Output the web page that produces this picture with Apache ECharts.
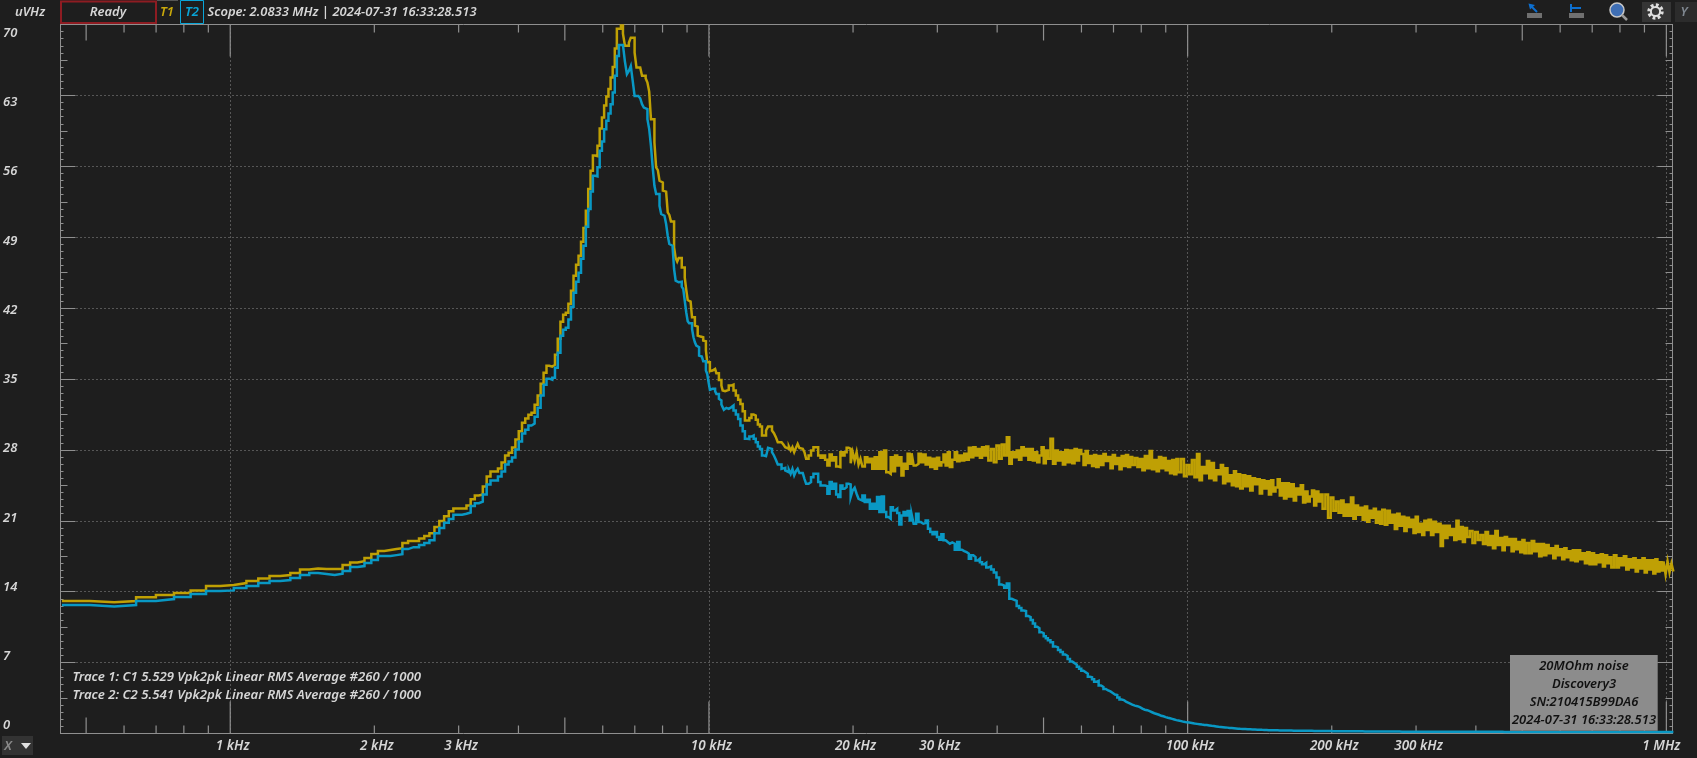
<!DOCTYPE html>
<html><head><meta charset="utf-8">
<style>html,body{margin:0;padding:0;background:#1e1e1e}#c{width:1697px;height:758px}</style>
<script src="https://cdn.jsdelivr.net/npm/echarts@6/dist/echarts.min.js"></script>
</head><body><div id="c"></div>
<script>
const binHz = 63.58;
const firstLowBin = 7;
const t1Low = [13.08,12.95,13.08,13.44,13.67,13.87,14.13,14.56,14.66,14.85,15.05,15.31,15.54,15.64,15.84,16.2,16.3,16.23,16.23,16.23,16.63,16.89,17.02,17.32,17.71,18.01,18.11,18.21,18.3,18.8,19.0,19.0,19.26,19.49,19.78,20.38,20.97,
21.46,21.95,22.21,22.21,22.21,22.51,23.13,23.49,23.59,24.38,25.37,25.86,25.86,26.16,26.75,27.44,27.73,28.23,29.02,29.84,30.69,31.09,31.48,31.68,32.47,33.36,34.54,35.62,36.31,36.22,36.41,37.4,38.98,40.65,41.34,41.54,42.43,43.71,45.19,46.27,47.16,48.54,49.92,51.6,
53.75,55.56,57.07,57.0,58.02,59.73,60.82,62.0,62.89,63.64,64.76,65.81,67.62,69.59,69.59,69.89,69.1,67.9,67.9,68.2,68.7,68.7,67.23,65.75,65.75,65.65,64.93,64.93,64.7,64.27,63.38,60.65,60.65,58.35,55.9,55.62,54.57,54.4,53.6,53.5,53.4,51.45,51.2,50.56,
50.56,48.0,46.95,46.6,46.95,46.95,46.0,46.0,45.04,43.82,42.8,42.64,42.64,41.1,41.1,40.27,40.17,39.29,39.19,39.19,39.12,38.79,38.73,37.81,36.66,36.66,35.77,35.84,35.84,36.0,36.0,35.57,35.57,34.91,34.91,34.36,33.86,33.8,33.8];
const t2Low = [12.68,12.55,12.68,13.08,13.27,13.47,13.77,14.06,14.13,14.36,14.56,14.85,15.05,15.15,15.35,15.64,15.84,15.74,15.64,15.77,16.04,16.43,16.53,16.83,17.12,17.52,17.52,17.61,17.71,18.21,18.4,18.4,18.6,18.8,19.09,19.78,20.28,20.8,
21.19,21.59,21.59,21.69,21.82,22.47,22.74,22.9,23.59,24.58,24.97,24.97,25.37,25.86,26.55,26.85,27.24,28.03,28.82,29.61,30.0,30.4,30.59,31.28,32.17,33.36,34.44,35.03,34.93,35.13,36.12,37.6,39.27,39.86,40.06,40.88,42.13,43.51,44.6,45.49,46.87,48.15,50.02,
51.78,53.5,55.06,55.0,55.9,57.53,58.45,59.67,60.49,61.21,62.13,63.28,64.93,66.9,67.98,67.98,67.88,66.34,65.1,65.42,65.91,64.43,62.95,62.95,62.95,62.72,62.13,61.8,61.64,60.65,59.67,58.02,55.9,54.08,53.26,53.26,
52.1,51.29,51.12,50.96,50.3,49.15,48.33,48.16,48.0,45.86,44.71,44.55,44.6,44.6,44.12,43.89,42.74,41.59,40.7,40.5,40.5,39.94,39.12,38.63,38.3,38.14,37.31,37.22,37.15,36.76,36.76,35.84,35.5,34.68,33.93,34.03,34.03,34.03,33.8,33.53,33.53,33.04,32.88,32.48,32.22,31.96,32.15];
// above 10.9 kHz the traces are read at every Nth FFT bin: [first bin, stride, count]
const binRuns = [[171,2,40],[251,3,27],[333,4,23],[426,5,16],[507,6,17],[611,8,25],[813,10,20],[1013,12,17],[1220,15,20],[1525,20,25],[2025,25,20],[2530,30,17],[3050,40,25],[4060,50,20],[5070,60,17],[6110,80,25],[8130,100,20],[10150,120,17],[12220,150,28]];
const t1High = [33.92,34.35,34.45,33.86,33.37,32.94,32.54,31.82,30.9,30.9,31.16,31.49,31.39,30.97,30.5,30.3,29.42,29.42,29.91,30.3,30.3,29.91,29.65,29.26,28.76,28.76,28.66,28.53,28.27,28.1,28.34,27.94,28.27,27.78,28.2,28.6,28.2,28.1,28.1,27.78,
27.12,27.45,27.94,28.27,28.27,27.45,27.22,27.45,27.02,26.46,27.55,26.95,27.28,26.36,26.3,27.78,27.45,27.78,28.2,28.1,26.69,27.78,26.95,27.78,26.56,27.12,26.36,
27.28,26.79,27.12,26.13,27.28,26.13,27.78,26.13,27.94,25.8,25.64,27.28,25.9,27.45,26.46,27.28,25.48,26.63,26.13,27.61,26.63,27.68,26.46,
26.63,27.61,26.79,27.55,26.56,27.22,26.3,27.12,26.13,27.22,26.46,26.79,27.55,26.46,27.78,26.3,
27.02,27.78,26.89,27.45,26.95,27.61,27.02,28.2,27.28,28.27,27.45,28.1,27.22,28.27,27.45,28.34,26.95,
28.1,26.79,28.43,27.12,28.53,27.45,29.26,26.63,27.78,27.28,27.94,27.02,28.27,27.45,28.1,27.02,28.1,26.95,27.78,26.79,27.45,28.27,26.69,27.94,27.12,
29.09,26.63,27.94,26.95,27.78,26.56,28.0,26.79,27.94,26.69,28.1,26.95,28.0,27.6,26.5,27.9,26.7,27.4,26.4,27.5,
26.3,27.4,26.5,27.6,26.9,27.3,26.2,27.5,26.6,27.2,26.1,27.4,26.4,27.5,26.3,27.3,26.5,
27.2,26.3,27.1,26.0,27.4,26.2,27.9,26.1,27.0,25.9,27.3,26.2,27.2,26.0,26.9,25.7,27.0,25.6,27.1,25.8,
27.1,25.4,26.5,25.6,27.0,25.3,27.6,25.0,26.3,25.7,26.9,25.2,26.7,25.0,26.0,25.6,26.5,24.7,26.2,24.9,25.5,24.5,25.9,24.4,25.6,
24.2,25.5,24.4,25.4,24.0,25.2,24.6,25.1,23.7,25.0,24.2,24.9,23.6,25.0,23.9,24.3,25.1,23.5,24.7,23.2,
24.7,23.4,24.6,23.0,24.2,23.6,24.5,22.8,23.9,22.9,23.4,24.0,22.5,23.9,22.9,23.6,22.2,
23.6,21.3,23.3,22.0,22.9,21.8,23.0,21.5,22.6,21.5,23.3,21.2,22.5,21.6,22.3,21.1,22.4,20.9,22.0,21.3,22.2,20.8,21.9,20.7,22.1,
20.6,22.0,20.8,21.6,20.2,21.7,20.5,21.4,20.0,21.3,20.4,21.1,19.8,21.4,19.9,20.7,19.6,21.0,20.1,21.1,
19.6,20.9,19.9,20.7,18.5,20.5,19.3,20.5,19.6,20.2,19.1,21.0,19.2,20.4,18.9,20.3,19.4,
20.0,18.8,19.9,19.1,19.6,18.7,19.9,18.6,19.5,18.3,20.0,18.6,19.3,18.1,19.4,18.6,19.2,18.0,19.2,18.2,18.9,17.9,19.1,17.8,18.8,
17.8,19.0,18.0,18.7,17.5,18.7,17.6,18.6,17.8,18.3,17.3,18.5,17.6,18.2,17.2,18.3,17.4,18.0,17.1,18.1,
17.0,18.1,17.2,17.8,16.8,17.9,16.7,17.8,16.7,17.6,16.9,17.7,16.5,17.6,16.8,17.4,16.4,
17.6,16.4,17.3,16.6,17.5,16.2,17.2,16.4,17.3,16.0,17.1,16.3,17.3,15.9,17.1,16.2,17.1,15.8,17.2,16.0,16.9,16.1,17.0,15.7,17.0,15.9,16.8,16.0];
const t2High = [32.05,32.2,32.38,31.9,31.5,31.06,30.4,29.85,29.09,29.06,29.32,29.42,29.09,28.76,28.34,28.1,27.45,27.38,27.45,28.2,28.1,27.78,27.45,27.02,26.56,26.56,26.13,26.23,25.97,25.8,26.04,25.64,26.13,25.48,25.9,26.13,25.71,25.71,25.64,25.15,
24.65,24.82,25.3,25.64,25.64,24.82,24.49,24.49,24.42,23.67,24.82,24.16,24.65,23.6,23.34,24.49,24.16,24.33,24.65,24.59,23.34,24.0,24.26,23.67,23.17,23.0,23.5,
22.85,23.08,22.19,22.68,22.19,23.34,21.86,23.4,21.86,21.37,21.2,22.35,22.02,22.19,21.76,20.64,21.53,21.86,21.53,21.96,21.04,21.63,20.71,
21.7,20.87,20.71,20.78,21.04,20.22,19.89,19.66,19.89,19.39,19.13,19.66,19.07,18.9,18.74,18.87,
18.74,18.15,18.9,18.15,18.01,17.92,17.75,17.26,17.59,17.42,17.09,17.26,16.9,16.7,16.85,16.4,16.5,
16.2,15.9,15.4,14.7,14.6,14.4,14.8,13.3,13.2,13.1,12.6,12.4,12.15,12.1,11.6,11.5,11.2,10.85,10.55,10.4,10.0,9.9,9.6,9.4,9.2,
9.0,8.6,8.5,8.25,8.05,7.8,7.65,7.35,7.1,6.95,6.8,6.6,6.4,6.2,6.05,5.9,5.6,5.55,5.35,5.1,
5.2,4.75,4.6,4.4,4.25,4.15,4.0,3.85,3.8,3.55,3.35,3.3,3.15,3.05,2.95,2.85,2.75,
2.7,2.6,2.45,2.35,2.3,2.2,2.1,2.0,1.93,1.85,1.75,1.7,1.62,1.55,1.5,1.44,1.38,1.32,1.28,1.22,
1.15,1.1,1.08,1.03,0.98,0.95,0.92,0.88,0.85,0.83,0.8,0.76,0.73,0.7,0.66,0.64,0.62,0.6,0.58,0.55,0.54,0.52,0.5,0.48,0.46,
0.45,0.44,0.42,0.41,0.4,0.39,0.38,0.38,0.36,0.35,0.34,0.33,0.33,0.32,0.31,0.31,0.3,0.3,0.3,0.29,
0.29,0.29,0.28,0.28,0.28,0.27,0.27,0.27,0.26,0.26,0.26,0.25,0.25,0.25,0.25,0.24,0.24,
0.24,0.24,0.23,0.23,0.23,0.23,0.22,0.22,0.22,0.22,0.21,0.21,0.21,0.21,0.21,0.2,0.2,0.2,0.2,0.2,0.2,0.19,0.19,0.19,0.19,
0.19,0.19,0.19,0.19,0.19,0.19,0.18,0.18,0.18,0.18,0.18,0.18,0.18,0.18,0.18,0.18,0.18,0.18,0.18,0.18,
0.18,0.18,0.18,0.18,0.17,0.17,0.17,0.17,0.17,0.17,0.17,0.17,0.17,0.17,0.17,0.17,0.17,
0.17,0.17,0.17,0.17,0.17,0.17,0.17,0.17,0.17,0.17,0.17,0.17,0.17,0.16,0.16,0.16,0.16,0.16,0.16,0.16,0.16,0.16,0.16,0.16,0.16,
0.16,0.16,0.16,0.16,0.16,0.16,0.16,0.16,0.16,0.16,0.16,0.16,0.16,0.16,0.16,0.16,0.16,0.16,0.16,0.16,
0.16,0.16,0.16,0.16,0.16,0.16,0.16,0.16,0.16,0.16,0.16,0.16,0.16,0.16,0.16,0.16,0.16,
0.16,0.16,0.16,0.16,0.16,0.16,0.16,0.16,0.16,0.16,0.16,0.16,0.16,0.16,0.16,0.16,0.16,0.16,0.16,0.16,0.16,0.16,0.16,0.16,0.16,0.16,0.16,0.16];
const xLabelHz = [1e3,2e3,3e3,1e4,2e4,3e4,1e5,2e5,3e5,1e6];
const xLabelText = ['1 kHz','2 kHz','3 kHz','10 kHz','20 kHz','30 kHz','100 kHz','200 kHz','300 kHz','1 MHz'];
const tickDecade = [1e3,1e4,1e5,1e6];
const tickHalf = [500,5e3,5e4,5e5];
const tickMinor = [600,700,800,900,2e3,3e3,4e3,6e3,7e3,8e3,9e3,2e4,3e4,4e4,6e4,7e4,8e4,9e4,2e5,3e5,4e5,6e5,7e5,8e5,9e5];
const headerTitle = 'Scope: 2.0833 MHz | 2024-07-31 16:33:28.513';
const traceNotes = ['Trace 1: C1 5.529 Vpk2pk Linear RMS Average #260 / 1000','Trace 2: C2 5.541 Vpk2pk Linear RMS Average #260 / 1000'];
const noteLines = ['20MOhm noise','Discovery3','SN:210415B99DA6','2024-07-31 16:33:28.513'];

const highBins = [];
binRuns.forEach(([first, stride, count]) => { for (let k = 0; k < count; k++) highBins.push(first + stride * k); });
const pts = (low, high) => low.map((v, i) => [(firstLowBin + i) * binHz, v]).concat(high.map((v, i) => [highBins[i] * binHz, v]));

const AX = '#8f8f8f', TXT = '#d6d6d6', YEL = '#bfa004', BLU = '#0998c4', BG = '#1e1e1e';
const FONT = '"Noto Sans"';
const xBase = {type:'log', logBase:10, min:442, max:1030000, gridIndex:0};
const xAxes = [
  Object.assign({}, xBase, {position:'bottom', axisLine:{show:true, onZero:false, lineStyle:{color:AX, width:1}},
    axisTick:{show:false}, minorTick:{show:false},
    splitLine:{show:true, showMinLine:false, showMaxLine:false, lineStyle:{color:AX, type:[1,3], width:1}},
    axisLabel:{show:true, customValues:xLabelHz, color:TXT, margin:6, showMinLabel:true, showMaxLabel:true, hideOverlap:false,
      formatter:v => { const i = xLabelHz.findIndex(h => Math.abs(h - v) / h < 1e-6); const t = i < 0 ? '' : xLabelText[i]; return (i === xLabelHz.length - 1 ? '{e|' : '{n|') + t + '}'; },
      rich:{e:{padding:[0,10,0,0], color:TXT, fontFamily:FONT, fontStyle:'italic', fontWeight:600, fontSize:13.5},
            n:{padding:[0,0,0,5], color:TXT, fontFamily:FONT, fontStyle:'italic', fontWeight:600, fontSize:13.5}}}}),
  Object.assign({}, xBase, {position:'top', axisLine:{show:true, onZero:false, lineStyle:{color:AX, width:1}},
    axisTick:{show:false}, minorTick:{show:false}, axisLabel:{show:false}, splitLine:{show:false}}),
  {type:'value', gridIndex:1, show:false, min:0, max:1}
];
function yMain(position, grid) {
  return {type:'value', gridIndex:0, position, min:0, max:70, interval:7,
    axisLine:{show:true, onZero:false, lineStyle:{color:AX}},
    axisTick:{show:true, inside:true, length:15, lineStyle:{color:AX}},
    minorTick:{show:true, splitNumber:10, length:3, lineStyle:{color:AX}},
    axisLabel:{show:false},
    splitLine:{show:grid, showMinLine:false, showMaxLine:false, lineStyle:{color:AX, type:[1,3], width:1}}};
}
function yHalf(position) {
  return {type:'value', gridIndex:0, position, min:0, max:70, interval:3.5,
    axisLine:{show:false}, axisTick:{show:true, inside:true, length:7, lineStyle:{color:AX}},
    axisLabel:{show:false}, splitLine:{show:false}};
}
const yAxes = [yMain('left', true), yMain('right', false), yHalf('left'), yHalf('right'),
  {type:'value', gridIndex:1, position:'left', min:0, max:70, interval:7,
   axisLine:{show:false}, axisTick:{show:false}, splitLine:{show:false},
   axisLabel:{show:true, align:'left', margin:58, color:TXT, fontFamily:FONT, fontStyle:'italic', fontWeight:600, fontSize:13}}];

const tx = (text, x, y, o) => ({type:'text', x, y, z:50, silent:true, style:Object.assign({text, fill:TXT, font:'italic 600 13px ' + FONT, textAlign:'left', textVerticalAlign:'middle'}, o||{})});
const rc = (x, y, width, height, fill, stroke, lw) => ({type:'rect', z:49, silent:true, shape:{x, y, width, height, r:0}, style:{fill:fill||'none', stroke:stroke||'none', lineWidth:lw||1}});
const ln = (x1, y1, x2, y2, stroke, lw) => ({type:'line', z:50, silent:true, shape:{x1, y1, x2, y2}, style:{stroke, lineWidth:lw||2}});
const noteFont = {font:'italic 600 13.2px ' + FONT};
const graphics = [
  tx('uVHz', 30, 12.5, {textAlign:'center'}),
  rc(61, 1.5, 95, 21.5, 'none', '#8e1c22', 2),
  tx('Ready', 108, 12.5, {textAlign:'center'}),
  rc(157, 0, 21, 1, '#555555'),
  tx('T1', 167, 12.5, {textAlign:'center', fill:'#c9a80a'}),
  rc(180.5, 0.5, 23, 23, 'none', '#09a5d8', 1),
  tx('T2', 192, 12.5, {textAlign:'center', fill:'#09a5d8'}),
  tx(headerTitle, 207.5, 12.5),
  rc(1527, 13, 15, 5, '#707070'), ln(1530, 5, 1537, 12, '#0c6fd0', 2),
  {type:'polygon', z:50, silent:true, shape:{points:[[1528.5,3.5],[1535,5],[1530,9.5]]}, style:{fill:'#0c6fd0'}},
  rc(1569, 13, 15, 5, '#707070'), ln(1571, 4, 1571, 12, '#0c6fd0', 2), ln(1571, 8, 1581, 8, '#0c6fd0', 2),
  {type:'circle', z:50, silent:true, shape:{cx:1617, cy:10, r:7}, style:{fill:'#3f6fb5', stroke:'#c9c9c9', lineWidth:1.5}},
  ln(1622, 15, 1627, 20, '#9a9a9a', 2.5),
  rc(1642, 2, 29, 20, '#353535'),
  {type:'circle', z:50, silent:true, shape:{cx:1655.5, cy:11.5, r:6.2}, style:{fill:'none', stroke:'#dddddd', lineWidth:4, lineDash:[2.6,2.2]}},
  {type:'circle', z:50, silent:true, shape:{cx:1655.5, cy:11.5, r:4.6}, style:{fill:'none', stroke:'#dddddd', lineWidth:2}},
  rc(1675, 2, 22, 20, '#2c2c2c'),
  tx('Y', 1684, 12.5, {textAlign:'center', fill:'#7f8790'}),
  rc(2, 736, 31, 19, '#333333'),
  tx('X', 8, 746, {textAlign:'center', fill:'#8a8a8a', font:'italic 600 13px ' + FONT}),
  {type:'polygon', z:50, silent:true, shape:{points:[[21,743],[31,743],[26,749]]}, style:{fill:'#e0e0e0'}},
  tx(traceNotes[0], 72.5, 677.5, noteFont),
  tx(traceNotes[1], 72.5, 695.5, noteFont),
  rc(1510, 655, 147.7, 75.7, '#8c8c8c'),
].concat(noteLines.map((t, i) => tx(t, 1584, 666.5 + i * 18, {textAlign:'center', fill:'#111111'})));

const chart = echarts.init(document.getElementById('c'), null, {renderer:'canvas'});
const lineSeries = (name, data, color) => ({name, type:'line', xAxisIndex:0, yAxisIndex:0, data, step:'end', showSymbol:false, symbol:'none', animation:false, sampling:false, silent:true,
  lineStyle:{color, width:2.5, cap:'butt', join:'miter'}, itemStyle:{color}});
// x-axis tick marks hang from the frame, placed by the log scale itself
const tickSeries = (values, edge, length) => ({type:'scatter', xAxisIndex:0, yAxisIndex:0, silent:true, animation:false, clip:false, z:1,
  data:values.map(f => [f, edge]), symbol:'rect', symbolSize:[1.2, length], symbolOffset:[0, edge === 0 ? -length / 2 : length / 2], itemStyle:{color:AX, opacity:1}});
chart.setOption({
  backgroundColor:BG, animation:false, textStyle:{fontFamily:FONT},
  grid:[{left:60.5, right:24.5, top:24.5, bottom:24.5, containLabel:false},{left:60.5, right:24.5, top:33, bottom:32.3}],
  xAxis:xAxes, yAxis:yAxes,
  series:[
    tickSeries(tickDecade, 0, 32), tickSeries(tickHalf, 0, 16), tickSeries(tickMinor, 0, 8),
    tickSeries(tickDecade, 70, 32), tickSeries(tickHalf, 70, 16), tickSeries(tickMinor, 70, 8),
    lineSeries('T1', pts(t1Low, t1High), YEL), lineSeries('T2', pts(t2Low, t2High), BLU),
    {type:'line', xAxisIndex:2, yAxisIndex:4, data:[], silent:true}],
  graphic:graphics
});
</script></body></html>
